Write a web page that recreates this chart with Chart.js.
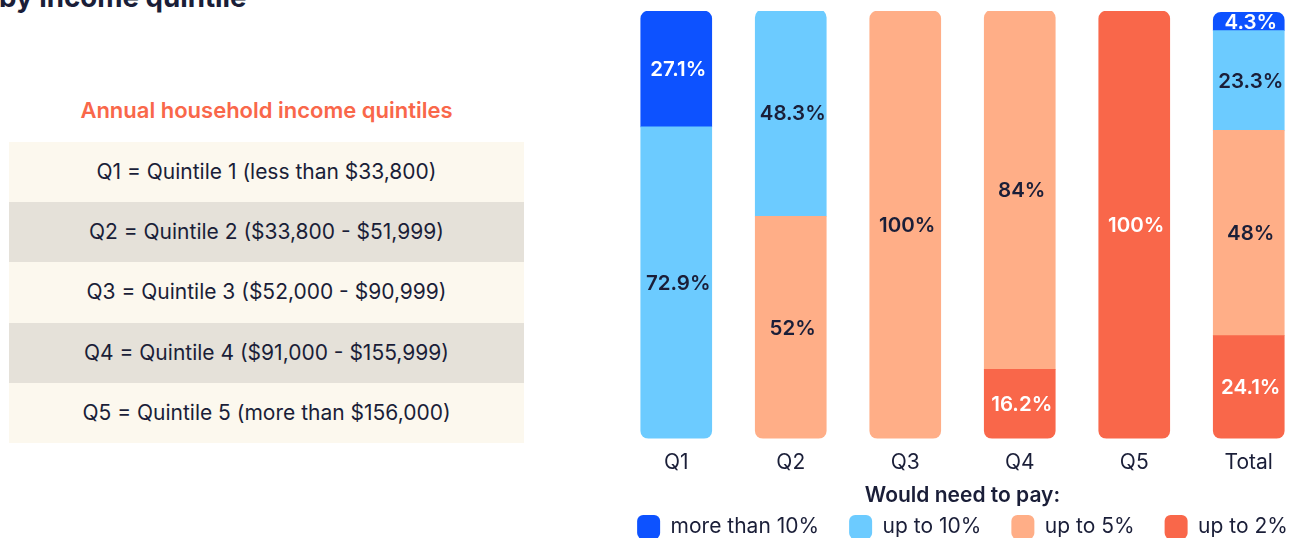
<!DOCTYPE html>
<html>
<head>
<meta charset="utf-8">
<script src="https://cdn.jsdelivr.net/npm/chart.js@4"></script>
<style>
  html, body { margin: 0; padding: 0; background: #fff; overflow: hidden; }
  body { width: 1293px; height: 538px; position: relative; font-family: Inter, "Noto Sans", sans-serif; color: #1a1e38; }
  .title { position: absolute; left: -1px; top: -20px; font-size: 27.7px; font-weight: 700; white-space: nowrap; }
  .tbl-head { position: absolute; left: 9px; width: 515px; top: 97px; text-align: center; color: #f9674a; font-size: 22px; font-weight: 600; }
  .tbl { position: absolute; left: 9px; top: 142px; width: 515px; }
  .tbl div { height: 60.2px; line-height: 60px; text-align: center; font-size: 21px; background: #fcf8ee; }
  .tbl div:nth-child(even) { background: #e5e1d9; }
  #wrap { position: absolute; left: 579px; top: 0; width: 767px; height: 549px; }
</style>
</head>
<body>
<div class="title">by income quintile</div>
<div class="tbl-head">Annual household income quintiles</div>
<div class="tbl" id="tbl"></div>
<div id="wrap"><canvas id="chart" width="767" height="549"></canvas></div>
<script>
// Income quintile definitions (left table)
const quintileRows = [
    'Q1 = Quintile 1 (less than $33,800)',
    'Q2 = Quintile 2 ($33,800 - $51,999)',
    'Q3 = Quintile 3 ($52,000 - $90,999)',
    'Q4 = Quintile 4 ($91,000 - $155,999)',
    'Q5 = Quintile 5 (more than $156,000)',
];

const categories = ['Q1', 'Q2', 'Q3', 'Q4', 'Q5', 'Total'];

// share of households, % (null = no segment)
const upTo2      = [null, null, null, 16.2, 100, 24.1];
const upTo5      = [null, 52,   100,  84,   null, 48];
const upTo10     = [72.9, 48.3, null, null, null, 23.3];
const moreThan10 = [27.1, null, null, null, null, 4.3];

const tbl = document.getElementById('tbl');
quintileRows.forEach(t => {
    const d = document.createElement('div');
    d.textContent = t;
    tbl.appendChild(d);
});

const NAVY = '#1a1e38';
const FONT = 'Inter, "Noto Sans", sans-serif';

// stacking order: first dataset sits at the bottom
const series = [
    { label: 'up to 2%',      data: upTo2,      color: '#f9674a', text: '#ffffff' },
    { label: 'up to 5%',      data: upTo5,      color: '#ffae87', text: NAVY },
    { label: 'up to 10%',     data: upTo10,     color: '#6ccbff', text: NAVY },
    { label: 'more than 10%', data: moreThan10, color: '#0d52ff', text: '#ffffff' },
];

const R = 8;
function cornerRadius(ctx) {
    const i = ctx.dataIndex;
    const filled = series.map((s, k) => s.data[i] != null ? k : -1).filter(k => k >= 0);
    const top = filled[filled.length - 1];
    const bottom = filled[0];
    const k = ctx.datasetIndex;
    return {
        topLeft: k === top ? R : 0,
        topRight: k === top ? R : 0,
        bottomLeft: k === bottom ? R : 0,
        bottomRight: k === bottom ? R : 0,
    };
}

// draws the % value in the middle of each segment
const segmentLabels = {
    id: 'segmentLabels',
    afterDatasetsDraw(chart) {
        const c = chart.ctx;
        c.save();
        c.font = '600 20.5px ' + FONT;
        c.textAlign = 'center';
        c.textBaseline = 'middle';
        chart.data.datasets.forEach((ds, k) => {
            const meta = chart.getDatasetMeta(k);
            meta.data.forEach((bar, i) => {
                const v = ds.data[i];
                if (v == null) return;
                c.fillStyle = series[k].text;
                c.fillText(v + '%', bar.x + 2, (bar.y + bar.base) / 2 + 1);
            });
        });
        c.restore();
    },
};

// empty side gutters so the legend gets the full canvas width
const gutter = {
    display: true,
    grid: { display: false },
    border: { display: false },
    ticks: { display: false },
    afterFit(scale) { scale.width = 40; },
};

new Chart(document.getElementById('chart'), {
    type: 'bar',
    data: {
        labels: categories,
        datasets: series.map(s => ({
            label: s.label,
            data: s.data,
            backgroundColor: s.color,
            borderWidth: 0,
            borderSkipped: false,
            borderRadius: cornerRadius,
            barThickness: 71,
        })),
    },
    options: {
        responsive: false,
        animation: false,
        layout: { padding: { top: 11, bottom: 0 } },
        plugins: {
            tooltip: { enabled: false },
            legend: {
                position: 'bottom',
                reverse: true,
                title: {
                    display: true,
                    text: 'Would need to pay:',
                    color: NAVY,
                    font: { family: FONT, size: 21, weight: '600' },
                    padding: { top: 7, bottom: -25 },
                },
                labels: {
                    color: NAVY,
                    font: { family: FONT, size: 21 },
                    boxWidth: 23,
                    boxHeight: 24,
                    padding: 30,
                    useBorderRadius: true,
                    borderRadius: 6,
                },
            },
        },
        scales: {
            x: {
                stacked: true,
                grid: { display: false },
                border: { display: false },
                ticks: { color: NAVY, font: { family: FONT, size: 21 }, padding: 3 },
            },
            y: {
                ...gutter,
                stacked: true,
                position: 'left',
                min: 0,
                max: 100,
            },
            yRight: {
                ...gutter,
                position: 'right',
                min: 0,
                max: 100,
            },
        },
    },
    plugins: [segmentLabels],
});
</script>
</body>
</html>
